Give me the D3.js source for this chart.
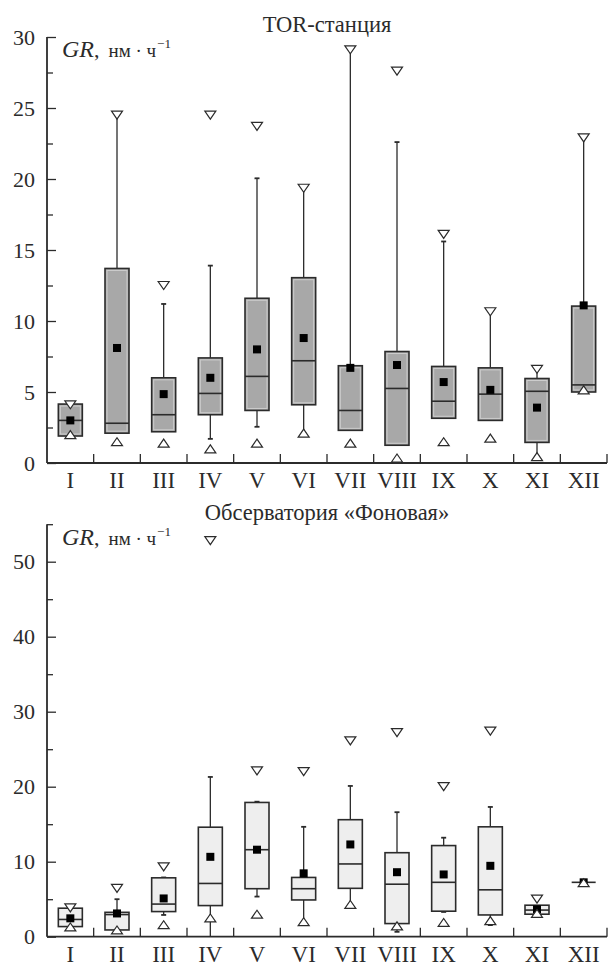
<!DOCTYPE html>
<html>
<head>
<meta charset="utf-8">
<script src="https://cdn.jsdelivr.net/npm/d3@7"></script>
<style>
  body { margin: 0; background: #fff; }
  svg text { font-family: 'Liberation Serif', 'DejaVu Serif', serif; }
</style>
</head>
<body>
<svg id="chart" width="609" height="967"></svg>
<script>
const months = ['I', 'II', 'III', 'IV', 'V', 'VI', 'VII', 'VIII', 'IX', 'X', 'XI', 'XII'];

// TOR-станция
const torQ1     = [1.9, 2.1, 2.2, 3.4, 3.7, 4.1, 2.3, 1.25, 3.15, 3.0, 1.45, 5.0];
const torQ3     = [4.15, 13.7, 6.0, 7.4, 11.6, 13.05, 6.85, 7.85, 6.8, 6.7, 5.95, 11.05];
const torMedian = [3.0, 2.8, 3.4, 4.9, 6.1, 7.2, 3.7, 5.25, 4.35, 4.85, 5.05, 5.5];
const torMean   = [3.0, 8.1, 4.85, 6.0, 8.0, 8.8, 6.7, 6.9, 5.7, 5.15, 3.9, 11.1];
const torLow    = [1.9, 2.1, 2.2, 1.7, 2.55, 2.1, 2.3, 1.25, 3.15, 3.0, 0.45, 5.0];
const torHigh   = [4.15, 24.5, 11.2, 13.9, 20.05, 19.35, 29.1, 22.6, 15.6, 10.65, 6.6, 22.9];
const torMin    = [2.0, 1.5, 1.4, 1.0, 1.4, 2.1, 1.4, 0.35, 1.5, 1.75, 0.45, 5.15];
const torMax    = [4.1, 24.5, 12.5, 24.5, 23.7, 19.35, 29.1, 27.6, 16.1, 10.65, 6.6, 22.9];

// Обсерватория «Фоновая»
const bgQ1     = [1.35, 0.9, 3.35, 4.15, 6.4, 4.9, 6.45, 1.75, 3.4, 2.9, 3.0, 7.25];
const bgQ3     = [3.8, 3.25, 7.85, 14.6, 17.9, 7.9, 15.6, 11.2, 12.15, 14.65, 4.2, 7.25];
const bgMedian = [2.3, 2.95, 4.35, 7.1, 11.6, 6.4, 9.7, 7.0, 7.25, 6.25, 3.55, 7.25];
const bgMean   = [2.45, 3.1, 5.1, 10.65, 11.6, 8.45, 12.3, 8.6, 8.3, 9.45, 3.65, 7.25];
const bgLow    = [1.35, 0.9, 2.9, 0, 5.35, 2.0, 4.3, 0.65, 3.3, 1.55, 3.0, 7.25];
const bgHigh   = [3.8, 5.0, 7.9, 21.3, 18.0, 14.65, 20.1, 16.6, 13.2, 17.3, 4.2, 7.25];
const bgMin    = [1.3, 0.9, 1.6, 2.5, 3.0, 2.0, 4.3, 1.45, 1.9, 2.15, 3.1, 7.2];
const bgMax    = [3.85, 6.45, 9.3, 52.8, 22.1, 22.0, 26.1, 27.2, 20.0, 27.4, 5.0, null];

const torTicks = [0, 5, 10, 15, 20, 25, 30];
const bgTicks = [0, 10, 20, 30, 40, 50];

const svg = d3.select('#chart');
const ink = '#2b2b2b';
const serif = "'Liberation Serif', 'DejaVu Serif', serif";

function rows(q1, q3, med, mean, lo, hi, mn, mx) {
  return months.map((m, i) => ({
    month: m, q1: q1[i], q3: q3[i], median: med[i], mean: mean[i],
    low: lo[i], high: hi[i], min: mn[i], max: mx[i]
  }));
}

function makePanel(opts) {
  const { top, bottom, left, right, domain, ticks, minorStep, data, fill, inner, title, titleY, unitY } = opts;

  const x = d3.scaleBand().domain(months).range([left, right]);
  const y = d3.scaleLinear().domain(domain).range([bottom, top]);
  const g = svg.append('g').attr('font-family', serif);

  // title
  g.append('text')
    .attr('x', (left + right) / 2)
    .attr('y', titleY)
    .attr('text-anchor', 'middle')
    .attr('font-size', 22.5)
    .attr('fill', ink)
    .text(title);

  const minor = d3.range(domain[0] + minorStep, domain[1] + 0.001, minorStep)
    .filter(v => !ticks.includes(v));

  // y axis: ticks point inward, labels outside
  g.append('g')
    .attr('transform', `translate(${left},0)`)
    .call(d3.axisLeft(y).tickValues(ticks).tickSizeInner(-9).tickSizeOuter(0).tickPadding(12))
    .attr('font-family', serif)
    .attr('font-size', 22)
    .call(a => a.select('.domain').remove())
    .call(a => a.selectAll('line').attr('stroke', ink).attr('stroke-width', 1.3))
    .call(a => a.selectAll('text').attr('fill', ink));

  g.append('g')
    .attr('transform', `translate(${left},0)`)
    .call(d3.axisLeft(y).tickValues(minor).tickSizeInner(-6).tickSizeOuter(0).tickFormat(''))
    .call(a => a.select('.domain').remove())
    .call(a => a.selectAll('line').attr('stroke', ink).attr('stroke-width', 1.3));

  g.append('line')
    .attr('x1', left).attr('x2', left)
    .attr('y1', y(domain[1])).attr('y2', bottom)
    .attr('stroke', ink).attr('stroke-width', 1.8);

  // x axis
  g.append('g')
    .attr('transform', `translate(0,${bottom})`)
    .call(d3.axisBottom(x).tickSize(0).tickPadding(9))
    .attr('font-family', serif)
    .attr('font-size', 23)
    .call(a => a.select('.domain').remove())
    .call(a => a.selectAll('text').attr('fill', ink));

  g.append('line')
    .attr('x1', left).attr('x2', right)
    .attr('y1', bottom).attr('y2', bottom)
    .attr('stroke', ink).attr('stroke-width', 1.8);

  g.selectAll('.sep')
    .data(months)
    .enter().append('line')
    .attr('class', 'sep')
    .attr('x1', d => x(d) + x.step()).attr('x2', d => x(d) + x.step())
    .attr('y1', bottom).attr('y2', bottom - 9)
    .attr('stroke', ink).attr('stroke-width', 1.3);

  // unit label
  const unit = g.append('text')
    .attr('x', left + 15)
    .attr('y', unitY)
    .attr('fill', ink);
  unit.append('tspan').attr('font-style', 'italic').attr('font-size', 24).text('GR');
  unit.append('tspan').attr('font-size', 22).text(',');
  unit.append('tspan').attr('font-size', 19).attr('dx', 9).text('нм · ч');
  unit.append('tspan').attr('font-size', 13).attr('dy', -9).attr('dx', 1).text('−1');

  const bw = 24;
  const box = g.selectAll('.box')
    .data(data)
    .enter().append('g')
    .attr('class', 'box')
    .attr('transform', d => `translate(${x(d.month) + x.bandwidth() / 2},0)`);

  // whiskers
  box.append('line')
    .attr('y1', d => y(d.q3)).attr('y2', d => y(d.high))
    .attr('stroke', ink).attr('stroke-width', 1.3);
  box.append('line')
    .attr('y1', d => y(d.q1)).attr('y2', d => y(d.low))
    .attr('stroke', ink).attr('stroke-width', 1.3);
  box.filter(d => d.high > d.q3)
    .append('line')
    .attr('x1', -2.5).attr('x2', 2.5)
    .attr('y1', d => y(d.high)).attr('y2', d => y(d.high))
    .attr('stroke', ink).attr('stroke-width', 1.8);
  box.filter(d => d.low < d.q1 && d.low > domain[0])
    .append('line')
    .attr('x1', -2.5).attr('x2', 2.5)
    .attr('y1', d => y(d.low)).attr('y2', d => y(d.low))
    .attr('stroke', ink).attr('stroke-width', 1.8);

  // box
  box.append('rect')
    .attr('x', -bw / 2).attr('width', bw)
    .attr('y', d => y(d.q3))
    .attr('height', d => y(d.q1) - y(d.q3))
    .attr('fill', fill)
    .attr('stroke', ink).attr('stroke-width', 1.6);
  if (inner) {
    box.filter(d => y(d.q1) - y(d.q3) > 4)
      .append('rect')
      .attr('x', -bw / 2 + 2).attr('width', bw - 4)
      .attr('y', d => y(d.q3) + 2)
      .attr('height', d => y(d.q1) - y(d.q3) - 4)
      .attr('fill', 'none')
      .attr('stroke', inner).attr('stroke-width', 1);
  }

  box.append('line')
    .attr('x1', -bw / 2).attr('x2', bw / 2)
    .attr('y1', d => y(d.median)).attr('y2', d => y(d.median))
    .attr('stroke', ink).attr('stroke-width', 1.6);

  // mean
  box.append('rect')
    .attr('x', -4).attr('width', 8)
    .attr('y', d => y(d.mean) - 4).attr('height', 8)
    .attr('fill', '#000');

  // min / max
  box.filter(d => d.max != null)
    .append('path')
    .attr('d', 'M-5.5,-4L5.5,-4L0,4Z')
    .attr('transform', d => `translate(0,${y(d.max)})`)
    .attr('fill', '#fff').attr('stroke', ink).attr('stroke-width', 1.2);
  box.filter(d => d.min != null)
    .append('path')
    .attr('d', 'M-5.5,4L5.5,4L0,-4Z')
    .attr('transform', d => `translate(0,${y(d.min)})`)
    .attr('fill', '#fff').attr('stroke', ink).attr('stroke-width', 1.2);
}

makePanel({
  top: 37, bottom: 463, left: 47, right: 607,
  domain: [0, 30], ticks: torTicks, minorStep: 2.5,
  data: rows(torQ1, torQ3, torMedian, torMean, torLow, torHigh, torMin, torMax),
  fill: '#a8a8a8', inner: '#cdcdcd',
  title: 'TOR-станция', titleY: 32, unitY: 57
});

makePanel({
  top: 524.2, bottom: 936.7, left: 47, right: 607,
  domain: [0, 55], ticks: bgTicks, minorStep: 5,
  data: rows(bgQ1, bgQ3, bgMedian, bgMean, bgLow, bgHigh, bgMin, bgMax),
  fill: '#eeeeee', inner: null,
  title: 'Обсерватория «Фоновая»', titleY: 520, unitY: 545
});
</script>
</body>
</html>
